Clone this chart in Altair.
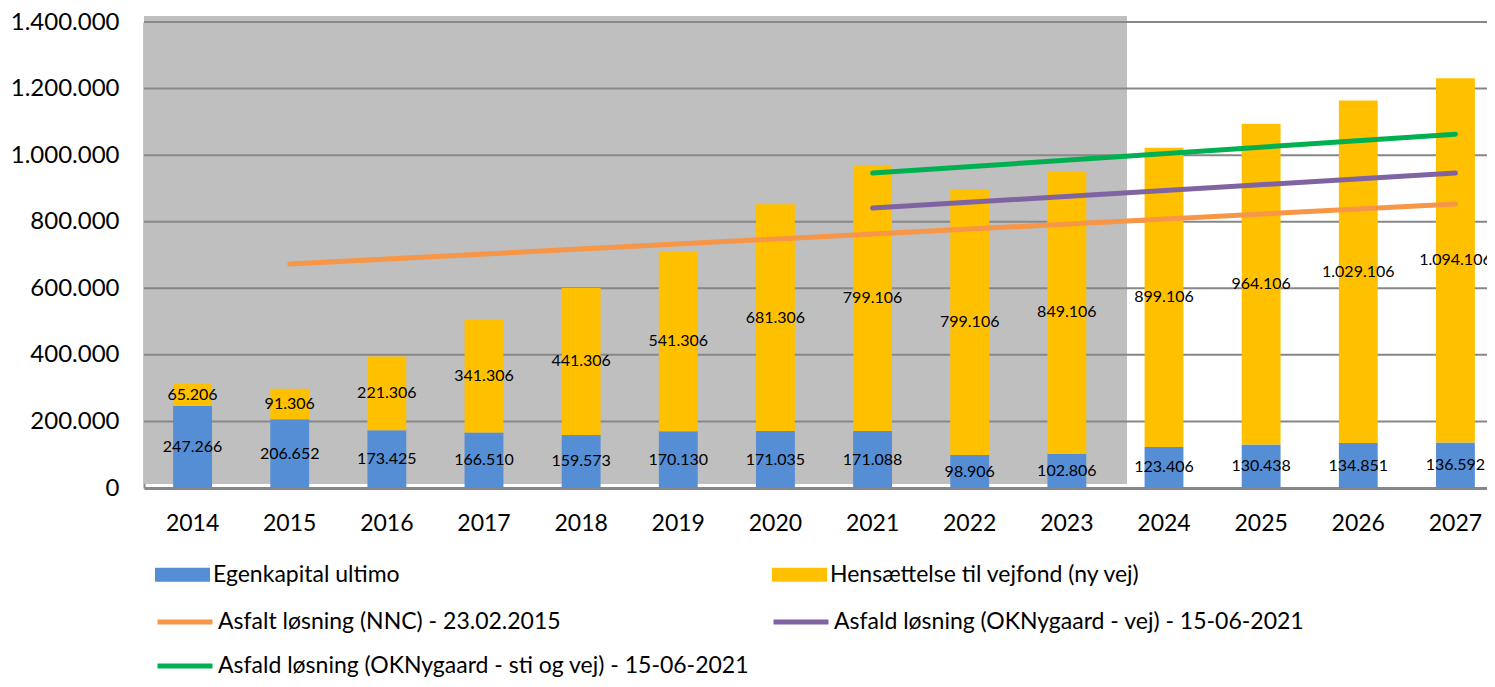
import altair as alt
import pandas as pd

years = [str(y) for y in range(2014, 2028)]
egenkapital = [247266, 206652, 173425, 166510, 159573, 170130, 171035,
               171088, 98906, 102806, 123406, 130438, 134851, 136592]
hensaettelse = [65206, 91306, 221306, 341306, 441306, 541306, 681306,
                799106, 799106, 849106, 899106, 964106, 1029106, 1094106]

bar_names = ["Egenkapital ultimo", "Hensættelse til vejfond (ny vej)"]
bar_colors = ["#558ED5", "#FFC000"]

# legend fills column by column: orange, green | purple
line_names = ["Asfalt løsning (NNC) - 23.02.2015",
              "Asfald løsning (OKNygaard - sti og vej) - 15-06-2021",
              "Asfald løsning (OKNygaard - vej) - 15-06-2021"]
line_colors = ["#F79646", "#00B050", "#8064A2"]
line_years = [["2015", "2027"], ["2021", "2027"], ["2021", "2027"]]
line_values = [[673000, 853000], [946000, 1063000], [841000, 946000]]

grid_ticks = [200000, 400000, 600000, 800000, 1000000, 1200000, 1400000]
y_ticks = [0] + grid_ticks

bars = pd.DataFrame({"year": years, "egen": egenkapital, "hens": hensaettelse})
lines = pd.DataFrame({
    "series": [n for n, ys in zip(line_names, line_years) for _ in ys],
    "year": [y for ys in line_years for y in ys],
    "value": [v for vs in line_values for v in vs],
})

FONT = "Lato"
xscale = alt.Scale(domain=years, range=[0, 1360], paddingInner=0.6, paddingOuter=0.3)
yscale = alt.Scale(domain=[0, 1400000], nice=False, zero=True)

X = alt.X("year:O", scale=xscale,
          axis=alt.Axis(title=None, labelAngle=0, ticks=False, grid=False,
                        domainColor="#878787", domainWidth=3,
                        labelPadding=24, labelFontSize=23, labelColor="black"))

def Y(field):
    return alt.Y(field, scale=yscale,
                 axis=alt.Axis(title=None, values=y_ticks, format=",d",
                               ticks=False, grid=False, domainColor="#878787",
                               domainWidth=2, labelPadding=25,
                               labelFontSize=24, labelColor="black"))

bar_fill = alt.Fill("bar_series:N",
                    scale=alt.Scale(domain=bar_names, range=bar_colors),
                    sort=bar_names,
                    legend=alt.Legend(title=None, orient="none",
                                      legendX=11, legendY=525,
                                      columns=2, columnPadding=372,
                                      symbolType="M-1,-0.255L1,-0.255L1,0.255L-1,0.255Z",
                                      symbolSize=3025, symbolStrokeWidth=0,
                                      symbolOpacity=1, labelOffset=3,
                                      labelFontSize=23, labelColor="black",
                                      labelLimit=800))

bg = alt.Chart(pd.DataFrame({"k": [0]})).mark_rect(color="#BFBFBF").encode(
    x=alt.value(0), x2=alt.value(983), y=alt.value(-6), y2=alt.value(462))

grid = alt.Chart(pd.DataFrame({"v": grid_ticks})).mark_rule(
    color="#878787", strokeWidth=2).encode(y=Y("v:Q"))

blue = alt.Chart(bars).transform_calculate(
    bar_series="'" + bar_names[0] + "'").mark_bar().encode(
    x=X, y=Y("egen:Q"), fill=bar_fill)

yellow = alt.Chart(bars).transform_calculate(
    top="datum.egen + datum.hens",
    bar_series="'" + bar_names[1] + "'").mark_bar().encode(
    x=X, y=Y("egen:Q"), y2="top:Q", fill=bar_fill)

line_layer = alt.Chart(lines).mark_line(strokeWidth=5, strokeCap="round").encode(
    x=X, y=Y("value:Q"),
    stroke=alt.Stroke("series:N",
                      scale=alt.Scale(domain=line_names, range=line_colors),
                      sort=line_names,
                      legend=alt.Legend(title=None, orient="none",
                                        legendX=11, legendY=570,
                                        columns=2, columnPadding=13,
                                        rowPadding=2,
                                        symbolType="stroke", symbolSize=3025,
                                        symbolStrokeWidth=5, labelOffset=3,
                                        labelFontSize=23, labelColor="black",
                                        labelLimit=800)))

blue_text = alt.Chart(bars).transform_calculate(mid="datum.egen / 2").mark_text(
    fontSize=16, color="black").encode(
    x=X, y=Y("mid:Q"), text=alt.Text("egen:Q", format=",d"))

yellow_text = alt.Chart(bars).transform_calculate(mid="datum.egen + datum.hens / 2").mark_text(
    fontSize=16, color="black").encode(
    x=X, y=Y("mid:Q"), text=alt.Text("hens:Q", format=",d"))

chart = alt.layer(bg, grid, blue, yellow, line_layer, blue_text, yellow_text).properties(
    width=1343, height=466,
    autosize=alt.AutoSizeParams(type="none"),
    padding={"left": 136, "top": 14, "right": 0, "bottom": 191},
).configure(
    font=FONT,
    locale={"number": {"decimal": ",", "thousands": ".", "grouping": [3],
                       "currency": ["", " kr."]}},
).configure_view(stroke=None)

chart.save("out.html", embed_options={"renderer": "svg", "actions": False})
